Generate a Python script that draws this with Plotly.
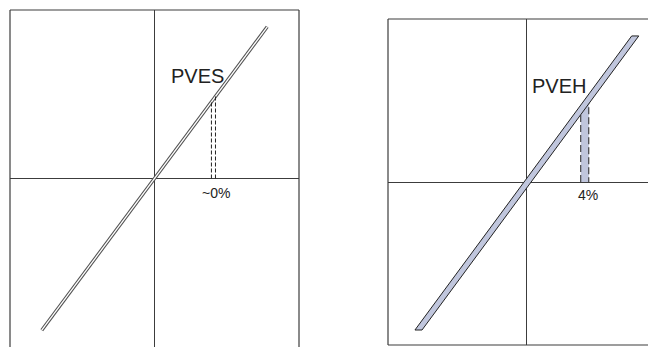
import plotly.graph_objects as go

# left panel: PVES (thin double-line characteristic)
pves_x = [-0.78, 0.78]
pves_y = [-0.90, 0.90]
pves_drop_x = [0.394, 0.422]
pves_drop_top = [0.46, 0.49]
pves_label = "PVES"
pves_pct = "~0%"

# right panel: PVEH (wide band characteristic)
pveh_band_x = [-0.806, -0.755, 0.806, 0.755, -0.806]
pveh_band_y = [-0.908, -0.908, 0.896, 0.896, -0.908]
pveh_rect_x = [0.388, 0.388, 0.446, 0.446, 0.388]
pveh_rect_y = [0.0, 0.45, 0.52, 0.0, 0.0]
pveh_label = "PVEH"
pveh_pct = "4%"

# page body has an 8px margin, so the figure is drawn 8px in from the window
OFF = 8
W, H = 656 - OFF, 347 - OFF
FRAME = "#3c3c3c"
INK = "#222222"
BAND = "#c0c6dd"


def px_x(p):
    return (p - OFF) / W


def px_y(p):
    return 1 - (p - OFF) / H


fig = go.Figure()

# --- left panel ---
fig.add_trace(go.Scatter(x=pves_x, y=pves_y, mode="lines",
                         line=dict(color="#505050", width=3.4),
                         xaxis="x", yaxis="y", hoverinfo="skip"))
fig.add_trace(go.Scatter(x=pves_x, y=pves_y, mode="lines",
                         line=dict(color="white", width=1.3),
                         xaxis="x", yaxis="y", hoverinfo="skip"))
dx, dy = [], []
for xv, top in zip(pves_drop_x, pves_drop_top):
    dx += [xv, xv, None]
    dy += [0, top, None]
fig.add_trace(go.Scatter(x=dx, y=dy, mode="lines",
                         line=dict(color=INK, width=1, dash="4px,2px"),
                         xaxis="x", yaxis="y", hoverinfo="skip"))

# --- right panel ---
fig.add_trace(go.Scatter(x=pveh_rect_x, y=pveh_rect_y, mode="lines",
                         fill="toself", fillcolor=BAND, line=dict(width=0),
                         xaxis="x2", yaxis="y2", hoverinfo="skip"))
rx, ry = [], []
for i in (0, 2):
    rx += [pveh_rect_x[i], pveh_rect_x[i + 1], None]
    ry += [pveh_rect_y[i], pveh_rect_y[i + 1], None]
fig.add_trace(go.Scatter(x=rx, y=ry, mode="lines",
                         line=dict(color=INK, width=1, dash="7px,3px"),
                         xaxis="x2", yaxis="y2", hoverinfo="skip"))
fig.add_trace(go.Scatter(x=pveh_band_x, y=pveh_band_y, mode="lines",
                         fill="toself", fillcolor=BAND,
                         line=dict(color=INK, width=1),
                         xaxis="x2", yaxis="y2", hoverinfo="skip"))

ax = dict(showgrid=False, showticklabels=False, ticks="", showline=False,
          zeroline=True, zerolinecolor=FRAME, zerolinewidth=1.2, fixedrange=True)

# frames (open on the cut-off side)
shapes = []
for xr, yr, sides in (("x", "y", "tlr"), ("x2", "y2", "tlb")):
    d = dict(type="line", xref=xr + " domain", yref=yr + " domain",
             line=dict(color=FRAME, width=1.2))
    if "t" in sides:
        shapes.append({**d, "x0": 0, "x1": 1, "y0": 1, "y1": 1})
    if "b" in sides:
        shapes.append({**d, "x0": 0, "x1": 1, "y0": 0, "y1": 0})
    if "l" in sides:
        shapes.append({**d, "x0": 0, "x1": 0, "y0": 0, "y1": 1})
    if "r" in sides:
        shapes.append({**d, "x0": 1, "x1": 1, "y0": 0, "y1": 1})

font_big = dict(family="Liberation Sans, Arial, sans-serif", size=20, color=INK)
font_small = dict(family="Liberation Sans, Arial, sans-serif", size=14, color=INK)
annotations = [
    dict(x=0.30, y=0.61, xref="x", yref="y", text=pves_label, showarrow=False, font=font_big),
    dict(x=0.426, y=-0.086, xref="x", yref="y", text=pves_pct, showarrow=False, font=font_small),
    dict(x=0.228, y=0.59, xref="x2", yref="y2", text=pveh_label, showarrow=False, font=font_big),
    dict(x=0.44, y=-0.08, xref="x2", yref="y2", text=pveh_pct, showarrow=False, font=font_small),
]

fig.update_layout(
    width=W, height=H, margin=dict(l=0, r=0, t=0, b=0),
    paper_bgcolor="white", plot_bgcolor="white", showlegend=False,
    xaxis=dict(ax, domain=[px_x(10), px_x(299)], range=[-1, 1]),
    yaxis=dict(ax, domain=[0, px_y(10)], range=[-1, 1]),
    xaxis2=dict(ax, domain=[px_x(388), 1], range=[-1, 0.93], anchor="y2"),
    yaxis2=dict(ax, domain=[px_y(345), px_y(19)], range=[-1, 1], anchor="x2"),
    shapes=shapes, annotations=annotations,
)

fig.write_html("out.html", config=dict(displayModeBar=False))
